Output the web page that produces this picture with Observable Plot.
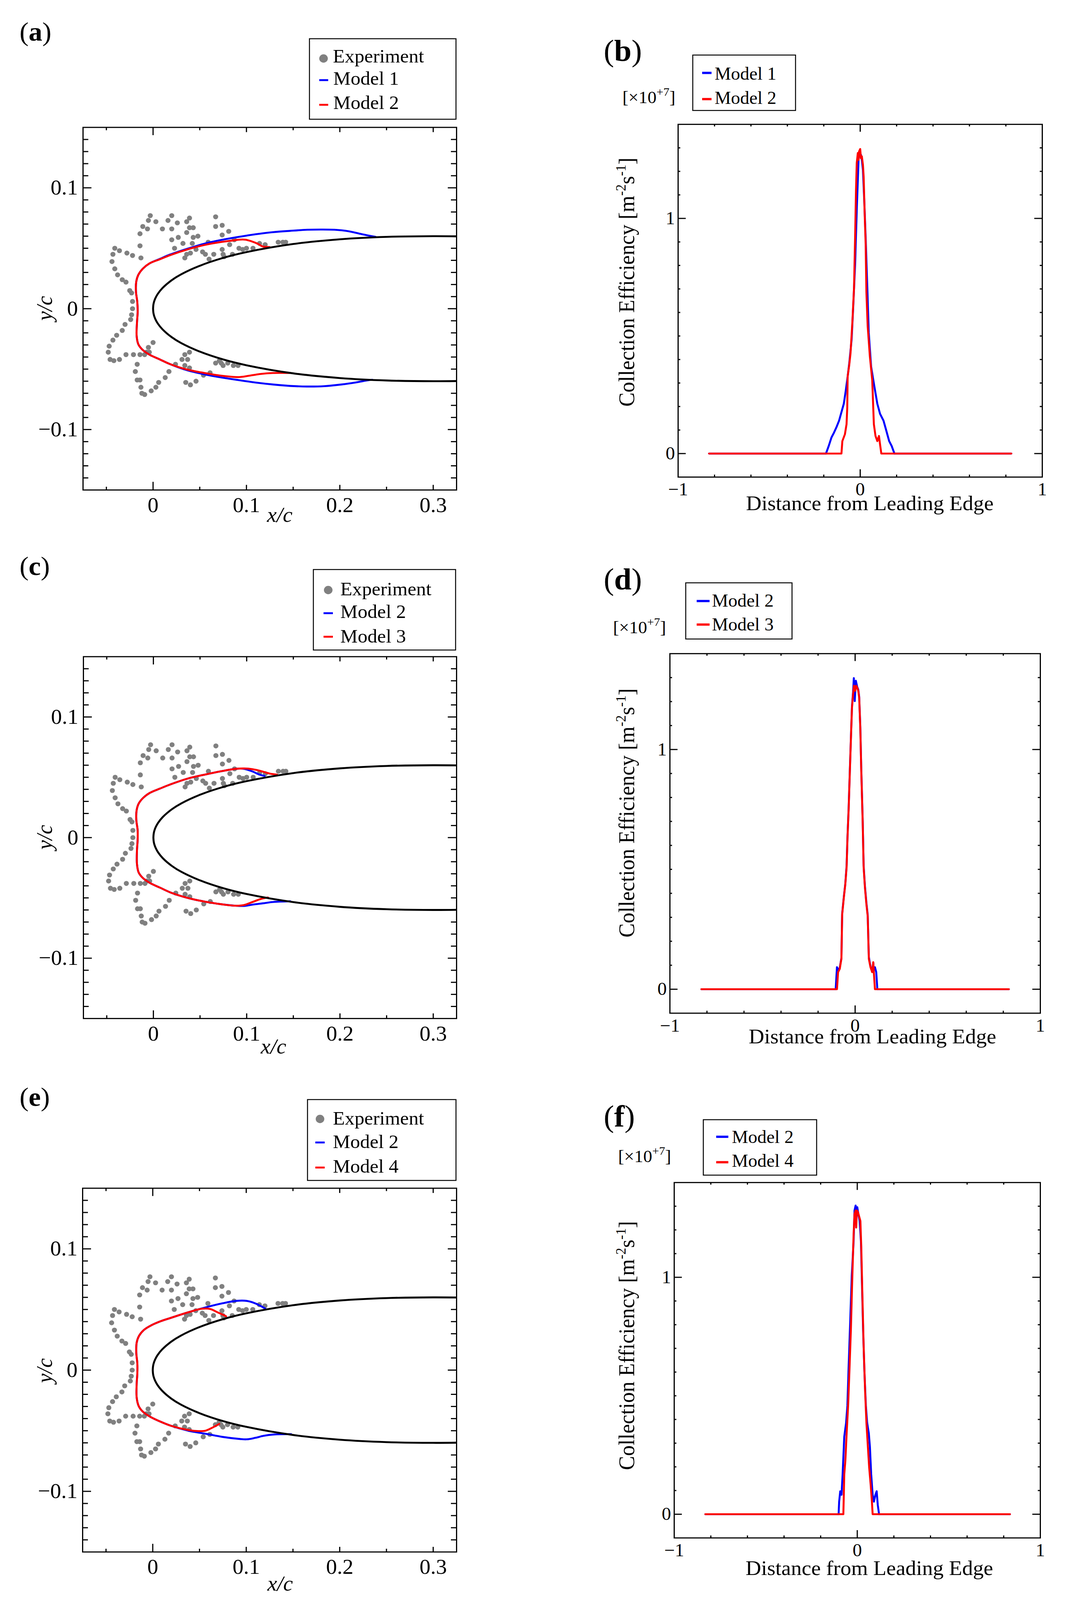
<!DOCTYPE html>
<html><head><meta charset="utf-8">
<script src="https://cdn.jsdelivr.net/npm/d3@7"></script>
<script src="https://cdn.jsdelivr.net/npm/@observablehq/plot@0.6"></script>
<style>
html,body{margin:0;padding:0;background:#fff;overflow:hidden;}
#root{position:relative;width:2741px;height:4214px;background:#fff;overflow:hidden;transform-origin:0 0;}
#root svg{position:absolute;}
</style></head><body><div id="root"></div>
<script>
// ---------------- DATA ----------------
// airfoil contour (upper surface, lower surface)
const airfoilX     = [0.33, 0.3, 0.25, 0.2, 0.15, 0.1, 0.075, 0.05, 0.03, 0.02, 0.01, 0.005, 0.0025, 0.001, 0.0003, 0];
const airfoilUpper = [0.0598, 0.0600, 0.0594, 0.0574, 0.0535, 0.0468, 0.0420, 0.0355, 0.0284, 0.0236, 0.0170, 0.0122, 0.0087, 0.0056, 0.0031, 0];
const airfoilLower = [-0.0598, -0.0600, -0.0594, -0.0574, -0.0535, -0.0468, -0.0420, -0.0355, -0.0284, -0.0236, -0.0170, -0.0122, -0.0087, -0.0056, -0.0031, 0];

// experimental ice shape (x/c, y/c)
const experiment = [
[-0.003,0.077],[-0.005,0.073],[-0.011,0.068],[-0.014,0.062],[-0.006,0.066],[0.003,0.072],[0.010,0.066],[0.016,0.073],[0.020,0.077],[0.026,0.071],
[0.020,0.066],[0.027,0.059],[0.020,0.057],[0.032,0.054],[0.023,0.050],[0.036,0.072],[0.039,0.075],[0.043,0.067],[0.039,0.067],[0.036,0.063],
[0.043,0.059],[0.048,0.060],[0.042,0.054],[0.046,0.049],[0.040,0.046],[0.036,0.045],[0.034,0.042],[0.059,0.055],[0.053,0.047],[0.056,0.045],
[0.060,0.041],[0.067,0.076],[0.067,0.068],[0.074,0.069],[0.074,0.061],[0.081,0.064],[0.082,0.053],[0.074,0.049],[0.065,0.045],[0.075,0.045],
[0.076,0.043],[0.085,0.045],[0.087,0.057],[0.092,0.050],[0.096,0.049],[0.100,0.050],[0.107,0.050],[0.114,0.054],[0.120,0.053],[0.134,0.055],
[0.139,0.055],[0.142,0.055],
[-0.014,0.052],[-0.013,0.042],[-0.022,0.044],[-0.028,0.046],[-0.036,0.048],[-0.041,0.050],[-0.043,0.045],[-0.044,0.039],[-0.041,0.033],[-0.038,0.028],
[-0.033,0.024],[-0.029,0.022],[-0.025,0.015],[-0.023,0.013],[-0.022,0.006],[-0.022,0.000],[-0.023,-0.005],[-0.024,-0.009],[-0.030,-0.013],[-0.033,-0.018],
[-0.039,-0.022],[-0.043,-0.026],[-0.047,-0.031],[-0.048,-0.036],[-0.046,-0.042],[-0.042,-0.043],[-0.036,-0.042],[-0.029,-0.038],[-0.021,-0.038],[-0.014,-0.038],
[-0.009,-0.038],[-0.004,-0.036],[0.000,-0.028],[-0.005,-0.032],[-0.007,-0.036],
[-0.017,-0.046],[-0.019,-0.052],[-0.017,-0.059],[-0.014,-0.059],[-0.013,-0.065],[-0.012,-0.070],[-0.009,-0.071],[-0.002,-0.068],[0.003,-0.065],[0.006,-0.061],
[0.013,-0.057],[0.017,-0.052],[0.024,-0.046],[0.031,-0.042],[0.034,-0.038],[0.039,-0.036],[0.037,-0.042],[0.034,-0.047],[0.039,-0.049],[0.035,-0.061],
[0.040,-0.063],[0.046,-0.060],[0.054,-0.055],[0.061,-0.053],[0.067,-0.045],[0.071,-0.043],[0.073,-0.045],[0.075,-0.047],[0.080,-0.045],[0.086,-0.047],[0.091,-0.047]
];

// (a) ice shapes
const iceA_model1 = [[0.2383,0.0594],[0.2237,0.0616],[0.209,0.0641],[0.1943,0.0653],[0.1797,0.0655],[0.165,0.0653],[0.1467,0.0644],[0.1283,0.0633],[0.11,0.0616],[0.0917,0.0594],[0.0733,0.0569],[0.055,0.0538],[0.0367,0.0496],[0.0183,0.0448],[0.0073,0.0412],[-0.0037,0.0375],[-0.011,0.0331],[-0.0158,0.028],[-0.018,0.0224],[-0.0183,0.014],[-0.0169,0.0056],[-0.0165,-0.0028],[-0.0172,-0.0112],[-0.0176,-0.0224],[-0.0158,-0.0294],[-0.011,-0.0342],[-0.0037,-0.0381],[0.0073,-0.042],[0.0183,-0.0459],[0.0367,-0.051],[0.055,-0.0543],[0.0733,-0.0569],[0.0917,-0.0591],[0.11,-0.0611],[0.1283,-0.0627],[0.1467,-0.0639],[0.165,-0.0644],[0.1833,-0.0641],[0.2017,-0.0627],[0.2163,-0.0611],[0.231,-0.0591],[0.2347,-0.0588]];
const iceA_model2 = [[0.1247,0.051],[0.1173,0.0515],[0.1118,0.0538],[0.1063,0.0555],[0.099,0.0571],[0.0917,0.0571],[0.0843,0.0563],[0.0733,0.0552],[0.055,0.0527],[0.0367,0.049],[0.0183,0.0443],[0.0073,0.0409],[-0.0037,0.0375],[-0.011,0.0331],[-0.0158,0.028],[-0.018,0.0224],[-0.0183,0.014],[-0.0169,0.0056],[-0.0165,-0.0028],[-0.0172,-0.0112],[-0.0176,-0.0224],[-0.0158,-0.0294],[-0.011,-0.0342],[-0.0037,-0.0381],[0.0073,-0.042],[0.0183,-0.0459],[0.0367,-0.0504],[0.055,-0.0532],[0.0733,-0.0555],[0.0917,-0.0566],[0.1027,-0.0555],[0.114,-0.0541],[0.1283,-0.0532],[0.1467,-0.0532]];

// (c) ice shapes
const iceC_model2 = [[0.1192,0.0511],[0.1137,0.0522],[0.1063,0.0548],[0.0972,0.057],[0.088,0.057],[0.0733,0.0551],[0.055,0.0522],[0.0367,0.0489],[0.0183,0.0441],[0.0073,0.0407],[-0.0037,0.0371],[-0.011,0.0329],[-0.0158,0.0281],[-0.018,0.0225],[-0.0183,0.0146],[-0.0169,0.0062],[-0.0169,-0.0022],[-0.0176,-0.0107],[-0.0176,-0.0219],[-0.0158,-0.0289],[-0.011,-0.0337],[-0.0037,-0.0376],[0.0073,-0.0416],[0.0183,-0.0455],[0.0367,-0.05],[0.055,-0.0531],[0.0733,-0.0553],[0.088,-0.0565],[0.0972,-0.0567],[0.1063,-0.0556],[0.1173,-0.0545],[0.1283,-0.0534],[0.1467,-0.0528]];
const iceC_model3 = [[0.1327,0.0522],[0.1247,0.0531],[0.1155,0.0551],[0.1063,0.0567],[0.0972,0.0573],[0.088,0.057],[0.0733,0.0551],[0.055,0.0522],[0.0367,0.0489],[0.0183,0.0441],[0.0073,0.0407],[-0.0037,0.0371],[-0.011,0.0329],[-0.0158,0.0281],[-0.018,0.0225],[-0.0183,0.0146],[-0.0169,0.0062],[-0.0169,-0.0022],[-0.0176,-0.0107],[-0.0176,-0.0219],[-0.0158,-0.0289],[-0.011,-0.0337],[-0.0037,-0.0376],[0.0073,-0.0416],[0.0183,-0.0455],[0.0367,-0.05],[0.055,-0.0531],[0.0733,-0.0553],[0.088,-0.0565],[0.0972,-0.0559],[0.1063,-0.0534],[0.1155,-0.0508],[0.1228,-0.0497]];

// (e) ice shapes
const iceE_model2 = [[0.1205,0.0506],[0.1168,0.0523],[0.1095,0.0551],[0.1004,0.0571],[0.0894,0.0571],[0.0747,0.0551],[0.0564,0.0517],[0.0381,0.0477],[0.0198,0.0432],[0.0088,0.0404],[-0.0022,0.0367],[-0.0095,0.0331],[-0.0147,0.0282],[-0.0172,0.0226],[-0.0176,0.0141],[-0.0165,0.0056],[-0.0165,-0.0028],[-0.0172,-0.0113],[-0.0172,-0.0226],[-0.015,-0.0297],[-0.0103,-0.0345],[-0.0022,-0.0387],[0.0088,-0.0427],[0.0198,-0.046],[0.0381,-0.05],[0.0564,-0.0525],[0.0747,-0.0551],[0.093,-0.0568],[0.1004,-0.0571],[0.1095,-0.0559],[0.1187,-0.0542],[0.1297,-0.0531],[0.148,-0.0528]];
const iceE_model4 = [[0.0784,0.0444],[0.0747,0.0458],[0.0692,0.0477],[0.0619,0.0503],[0.0527,0.0506],[0.0381,0.0477],[0.0198,0.0432],[0.0088,0.0404],[-0.0022,0.0367],[-0.0095,0.0331],[-0.0147,0.0282],[-0.0172,0.0226],[-0.0176,0.0141],[-0.0165,0.0056],[-0.0165,-0.0028],[-0.0172,-0.0113],[-0.0172,-0.0226],[-0.015,-0.0297],[-0.0103,-0.0345],[-0.0022,-0.0387],[0.0088,-0.0427],[0.0198,-0.046],[0.0381,-0.0494],[0.0491,-0.0503],[0.0564,-0.05],[0.0637,-0.0475],[0.0711,-0.0444]];

// (b) collection efficiency [x1e7]
const betaB_model1 = [[-0.83,0],[-0.188,0],[-0.173,0.032],[-0.158,0.068],[-0.144,0.089],[-0.131,0.111],[-0.116,0.140],[-0.103,0.176],[-0.090,0.212],[-0.079,0.269],[-0.069,0.327],[-0.060,0.385],[-0.047,0.486],[-0.038,0.630],[-0.028,0.803],[-0.019,1.033],[-0.013,1.163],[-0.009,1.249],[-0.004,1.278],[0.004,1.271],[0.009,1.249],[0.015,1.206],[0.023,1.062],[0.030,0.918],[0.038,0.731],[0.047,0.514],[0.060,0.370],[0.075,0.298],[0.094,0.212],[0.109,0.169],[0.128,0.140],[0.141,0.104],[0.159,0.053],[0.173,0.032],[0.188,0],[0.83,0]];
const betaB_model2 = [[-0.83,0],[-0.103,0],[-0.098,0.053],[-0.084,0.082],[-0.075,0.125],[-0.071,0.197],[-0.069,0.327],[-0.060,0.378],[-0.053,0.428],[-0.043,0.558],[-0.034,0.702],[-0.028,0.918],[-0.023,1.120],[-0.019,1.235],[-0.013,1.278],[-0.009,1.249],[-0.006,1.285],[0,1.295],[0.004,1.256],[0.009,1.264],[0.015,1.228],[0.019,1.177],[0.024,1.033],[0.030,0.889],[0.034,0.687],[0.041,0.543],[0.053,0.414],[0.066,0.313],[0.075,0.125],[0.084,0.075],[0.094,0.053],[0.103,0.075],[0.109,0.039],[0.116,0],[0.83,0]];

// (d)
const betaD_model2 = [[-0.83,0],[-0.105,0],[-0.098,0.092],[-0.090,0.078],[-0.083,0.090],[-0.074,0.130],[-0.070,0.315],[-0.061,0.385],[-0.053,0.440],[-0.046,0.515],[-0.041,0.640],[-0.035,0.755],[-0.028,0.925],[-0.022,1.065],[-0.017,1.180],[-0.011,1.240],[-0.007,1.298],[-0.002,1.202],[0.004,1.287],[0.011,1.262],[0.017,1.250],[0.022,1.220],[0.028,1.095],[0.033,0.925],[0.041,0.700],[0.046,0.515],[0.053,0.430],[0.061,0.360],[0.068,0.310],[0.074,0.135],[0.083,0.095],[0.092,0.075],[0.098,0.110],[0.101,0.080],[0.107,0.092],[0.114,0.071],[0.120,0],[0.83,0]];
const betaD_model3 = [[-0.83,0],[-0.098,0],[-0.092,0.071],[-0.083,0.085],[-0.074,0.127],[-0.070,0.311],[-0.061,0.382],[-0.053,0.438],[-0.046,0.509],[-0.041,0.636],[-0.035,0.750],[-0.028,0.919],[-0.022,1.061],[-0.017,1.174],[-0.011,1.231],[-0.006,1.266],[0,1.245],[0.006,1.266],[0.011,1.259],[0.017,1.245],[0.022,1.216],[0.028,1.089],[0.033,0.919],[0.041,0.693],[0.046,0.509],[0.053,0.424],[0.061,0.354],[0.068,0.304],[0.074,0.127],[0.083,0.092],[0.092,0.071],[0.098,0.113],[0.101,0.071],[0.107,0],[0.83,0]];

// (f)
const betaF_model2 = [[-0.83,0],[-0.102,0],[-0.099,0.053],[-0.093,0.097],[-0.086,0.082],[-0.080,0.169],[-0.071,0.328],[-0.061,0.386],[-0.054,0.458],[-0.048,0.603],[-0.039,0.805],[-0.030,1.007],[-0.020,1.152],[-0.015,1.282],[-0.009,1.303],[-0.004,1.267],[0,1.296],[0.006,1.267],[0.013,1.238],[0.020,1.152],[0.026,0.964],[0.032,0.776],[0.039,0.603],[0.047,0.458],[0.054,0.386],[0.063,0.342],[0.069,0.285],[0.076,0.169],[0.084,0.082],[0.091,0.053],[0.099,0.082],[0.106,0.097],[0.112,0.039],[0.119,0],[0.834,0]];
const betaF_model4 = [[-0.83,0],[-0.076,0],[-0.071,0.169],[-0.065,0.227],[-0.058,0.342],[-0.050,0.458],[-0.043,0.603],[-0.035,0.776],[-0.028,0.978],[-0.020,1.181],[-0.015,1.267],[-0.009,1.282],[-0.006,1.210],[-0.002,1.282],[0.004,1.275],[0.009,1.260],[0.017,1.238],[0.022,1.123],[0.028,0.921],[0.035,0.704],[0.043,0.516],[0.050,0.386],[0.058,0.285],[0.065,0.198],[0.073,0.126],[0.080,0.053],[0.084,0],[0.834,0]];

// ticks
const iceXZero  = [0];
const iceXMajor = [0.1, 0.2, 0.3];
const iceXLabels = [0, 0.1, 0.2, 0.3];
const iceXMinor = [-0.05, 0.05, 0.15, 0.25];
const iceYMajor = [-0.1, 0, 0.1];
const iceYMinor = [-0.14,-0.13,-0.12,-0.11,-0.09,-0.08,-0.07,-0.06,-0.05,-0.04,-0.03,-0.02,-0.01,0.01,0.02,0.03,0.04,0.05,0.06,0.07,0.08,0.09,0.11,0.12,0.13,0.14];
const betaXMajor = [-1, 0, 1];
const betaXMinor = [-0.8,-0.6,-0.4,-0.2,0.2,0.4,0.6,0.8];
const betaYMajor = [0, 1];
const betaYMinor = [0.1,0.2,0.3,0.4,0.5,0.6,0.7,0.8,0.9,1.1,1.2,1.3];

// ---------------- DRAW ----------------
const FONT = "'Liberation Serif','Times New Roman',serif";
const root = document.getElementById("root");
// fit the 2741x4214 page into the actual viewport
(function fit() {
  const sx = Math.min(1, (window.innerWidth || 2741) / 2741);
  const sy = Math.min(1, (window.innerHeight || 4214) / 4214);
  if (sx < 1 || sy < 1) root.style.transform = `scale(${sx},${sy})`;
})();
const M = {l: 160, t: 40, r: 40, b: 110};
const fmt = d => (d < 0 ? "\u2212" : "") + Math.abs(d);

function place(svg, left, top) {
  svg.style.left = left + "px";
  svg.style.top = top + "px";
  root.appendChild(svg);
}

function xTicks(data, fh, len) {
  return [
    Plot.tickX(data, {x: d => d, insetTop: fh - len, strokeWidth: 3}),
    Plot.tickX(data, {x: d => d, insetBottom: fh - len, strokeWidth: 3})
  ];
}
function yTicks(data, fw, len) {
  return [
    Plot.tickY(data, {y: d => d, insetRight: fw - len, strokeWidth: 3}),
    Plot.tickY(data, {y: d => d, insetLeft: fw - len, strokeWidth: 3})
  ];
}

function icePanel(fr, blueData, redData) {
  const fw = fr.x1 - fr.x0, fh = fr.y1 - fr.y0;
  const n = airfoilX.length;
  const airfoil = airfoilX.map((x, i) => [x, airfoilUpper[i]])
    .concat(airfoilX.map((x, i) => [airfoilX[n - 1 - i], airfoilLower[n - 1 - i]]));
  const svg = Plot.plot({
    width: fw + M.l + M.r, height: fh + M.t + M.b,
    marginLeft: M.l, marginRight: M.r, marginTop: M.t, marginBottom: M.b,
    x: {domain: [-0.075, 0.325], axis: null},
    y: {domain: [-0.15, 0.15], axis: null},
    style: {fontFamily: FONT, background: "transparent", overflow: "visible", color: "black"},
    marks: [
      ...xTicks(iceXZero, fh, 21),
      ...xTicks(iceXMajor, fh, 13),
      ...xTicks(iceXMinor, fh, 8),
      ...yTicks(iceYMajor, fw, 22),
      ...yTicks(iceYMinor, fw, 14),
      Plot.axisX(iceXLabels, {anchor: "bottom", tickSize: 0, tickPadding: 18, tickFormat: fmt, fontSize: 56, label: null}),
      Plot.axisY(iceYMajor, {anchor: "left", tickSize: 0, tickPadding: 13, tickFormat: fmt, fontSize: 56, label: null}),
      Plot.dot(experiment, {x: d => d[0], y: d => d[1], r: 6.5, fill: "#808080", stroke: null}),
      Plot.line(blueData, {x: d => d[0], y: d => d[1], stroke: "#0000ff", strokeWidth: 5, curve: "catmull-rom"}),
      Plot.line(redData, {x: d => d[0], y: d => d[1], stroke: "#ff0000", strokeWidth: 5, curve: "catmull-rom"}),
      Plot.line(airfoil, {x: d => d[0], y: d => d[1], stroke: "black", strokeWidth: 5, curve: "catmull-rom", clip: true}),
      Plot.frame({strokeWidth: 3})
    ]
  });
  place(svg, fr.x0 - M.l, fr.y0 - M.t);
}

function betaPanel(fr, blueData, redData) {
  const fw = fr.x1 - fr.x0, fh = fr.y1 - fr.y0;
  const svg = Plot.plot({
    width: fw + M.l + M.r, height: fh + M.t + M.b,
    marginLeft: M.l, marginRight: M.r, marginTop: M.t, marginBottom: M.b,
    x: {domain: [-1, 1], axis: null},
    y: {domain: [-0.1, 1.4], axis: null},
    style: {fontFamily: FONT, background: "transparent", overflow: "visible", color: "black"},
    marks: [
      ...xTicks(betaXMajor, fh, 20),
      ...xTicks(betaXMinor, fh, 6),
      ...yTicks(betaYMajor, fw, 20),
      ...yTicks(betaYMinor, fw, 6),
      Plot.axisX(betaXMajor, {anchor: "bottom", tickSize: 0, tickPadding: 14, tickFormat: fmt, fontSize: 48, label: null}),
      Plot.axisY(betaYMajor, {anchor: "left", tickSize: 0, tickPadding: 8, tickFormat: fmt, fontSize: 48, label: null}),
      Plot.line(blueData, {x: d => d[0], y: d => d[1], stroke: "#0000ff", strokeWidth: 5}),
      Plot.line(redData, {x: d => d[0], y: d => d[1], stroke: "#ff0000", strokeWidth: 5}),
      Plot.frame({strokeWidth: 3})
    ]
  });
  place(svg, fr.x0 - M.l, fr.y0 - M.t);
}

icePanel({x0: 212, x1: 1168, y0: 335, y1: 1290}, iceA_model1, iceA_model2);
icePanel({x0: 213, x1: 1168, y0: 1729, y1: 2682}, iceC_model2, iceC_model3);
icePanel({x0: 211, x1: 1168, y0: 3129, y1: 4087}, iceE_model2, iceE_model4);
betaPanel({x0: 1735, x1: 2667, y0: 327, y1: 1256}, betaB_model1, betaB_model2);
betaPanel({x0: 1714, x1: 2662, y0: 1721, y1: 2668}, betaD_model2, betaD_model3);
betaPanel({x0: 1725, x1: 2662, y0: 3114, y1: 4050}, betaF_model2, betaF_model4);

// ---------------- ANNOTATIONS ----------------
const ov = d3.select(root).append("svg")
  .attr("width", 2741).attr("height", 4214)
  .style("left", "0px").style("top", "0px")
  .attr("font-family", FONT);

function panelLabel(x, y, letter, size) {
  const t = ov.append("text").attr("x", x).attr("y", y).attr("font-size", size);
  t.append("tspan").text("(");
  t.append("tspan").attr("font-weight", "bold").text(letter);
  t.append("tspan").text(")");
}
panelLabel(50, 107, "a", 70);
panelLabel(50, 1514, "c", 70);
panelLabel(50, 2913, "e", 70);
panelLabel(1545, 161, "b", 80);
panelLabel(1545, 1552, "d", 80);
panelLabel(1545, 2967, "f", 80);

function legend(box, entries, opt) {
  ov.append("rect").attr("x", box[0]).attr("y", box[1]).attr("width", box[2] - box[0]).attr("height", box[3] - box[1])
    .attr("fill", "white").attr("stroke", "black").attr("stroke-width", 2.5);
  entries.forEach(e => {
    if (e.type === "dot") {
      ov.append("circle").attr("cx", e.sx).attr("cy", e.sy).attr("r", 11).attr("fill", "#808080");
    } else {
      ov.append("line").attr("x1", e.sx).attr("x2", e.sx + opt.dash).attr("y1", e.sy).attr("y2", e.sy)
        .attr("stroke", e.color).attr("stroke-width", opt.dw);
    }
    ov.append("text").attr("x", e.tx).attr("y", e.ty).attr("font-size", opt.fs).text(e.label);
  });
}
legend([792, 102, 1167, 314], [
  {type: "dot", sx: 828, sy: 154, tx: 852, ty: 165, label: "Experiment"},
  {type: "line", color: "#0000ff", sx: 817, sy: 211, tx: 853, ty: 223, label: "Model 1"},
  {type: "line", color: "#ff0000", sx: 817, sy: 276, tx: 853, ty: 287, label: "Model 2"}
], {dash: 23, dw: 5, fs: 50});
legend([802, 1500, 1166, 1712], [
  {type: "dot", sx: 840, sy: 1554, tx: 871, ty: 1568, label: "Experiment"},
  {type: "line", color: "#0000ff", sx: 828, sy: 1615, tx: 871, ty: 1628, label: "Model 2"},
  {type: "line", color: "#ff0000", sx: 828, sy: 1677, tx: 871, ty: 1692, label: "Model 3"}
], {dash: 24, dw: 5, fs: 50});
legend([787, 2896, 1167, 3109], [
  {type: "dot", sx: 819, sy: 2947, tx: 852, ty: 2962, label: "Experiment"},
  {type: "line", color: "#0000ff", sx: 807, sy: 3009, tx: 852, ty: 3024, label: "Model 2"},
  {type: "line", color: "#ff0000", sx: 807, sy: 3075, tx: 852, ty: 3089, label: "Model 4"}
], {dash: 24, dw: 5, fs: 50});
legend([1773, 145, 2036, 291], [
  {type: "line", color: "#0000ff", sx: 1797, sy: 192, tx: 1829, ty: 210, label: "Model 1"},
  {type: "line", color: "#ff0000", sx: 1797, sy: 261, tx: 1829, ty: 274, label: "Model 2"}
], {dash: 24, dw: 6, fs: 47});
legend([1755, 1535, 2027, 1683], [
  {type: "line", color: "#0000ff", sx: 1783, sy: 1583, tx: 1822, ty: 1598, label: "Model 2"},
  {type: "line", color: "#ff0000", sx: 1783, sy: 1645, tx: 1822, ty: 1661, label: "Model 3"}
], {dash: 33, dw: 6, fs: 47});
legend([1800, 2949, 2090, 3095], [
  {type: "line", color: "#0000ff", sx: 1833, sy: 2994, tx: 1873, ty: 3010, label: "Model 2"},
  {type: "line", color: "#ff0000", sx: 1833, sy: 3061, tx: 1873, ty: 3073, label: "Model 4"}
], {dash: 31, dw: 6, fs: 47});

function exponent(x, y) {
  const t = ov.append("text").attr("x", x).attr("y", y).attr("font-size", 46);
  t.append("tspan").text("[\u00d710");
  t.append("tspan").attr("dy", -20).attr("font-size", 31).text("+7");
  t.append("tspan").attr("dy", 20).text("]");
}
exponent(1593, 272);
exponent(1569, 1668);
exponent(1582, 3061);

function yLabelBeta(x, cy) {
  const t = ov.append("text").attr("transform", `translate(${x},${cy}) rotate(-90)`)
    .attr("text-anchor", "middle").attr("font-size", 56);
  t.append("tspan").text("Collection Efficiency [m");
  t.append("tspan").attr("dy", -22).attr("font-size", 36).text("-2");
  t.append("tspan").attr("dy", 22).text("s");
  t.append("tspan").attr("dy", -22).attr("font-size", 36).text("-1");
  t.append("tspan").attr("dy", 22).text("]");
}
yLabelBeta(1623, 743);
yLabelBeta(1623, 2141);
yLabelBeta(1623, 3544);

function xLabelBeta(cx, y) {
  ov.append("text").attr("x", cx).attr("y", y).attr("text-anchor", "middle").attr("font-size", 55).text("Distance from Leading Edge");
}
xLabelBeta(2226, 1344);
xLabelBeta(2233, 2748);
xLabelBeta(2225, 4148);

function iceLabels(cxX, yX, yC) {
  ov.append("text").attr("x", cxX).attr("y", yX).attr("text-anchor", "middle").attr("font-size", 56)
    .attr("font-style", "italic").text("x/c");
  ov.append("text").attr("transform", `translate(133,${yC}) rotate(-90)`).attr("text-anchor", "middle")
    .attr("font-size", 56).attr("font-style", "italic").text("y/c");
}
iceLabels(716, 1375, 812);
iceLabels(700, 2775, 2205);
iceLabels(717, 4189, 3610);
</script>
</body></html>
